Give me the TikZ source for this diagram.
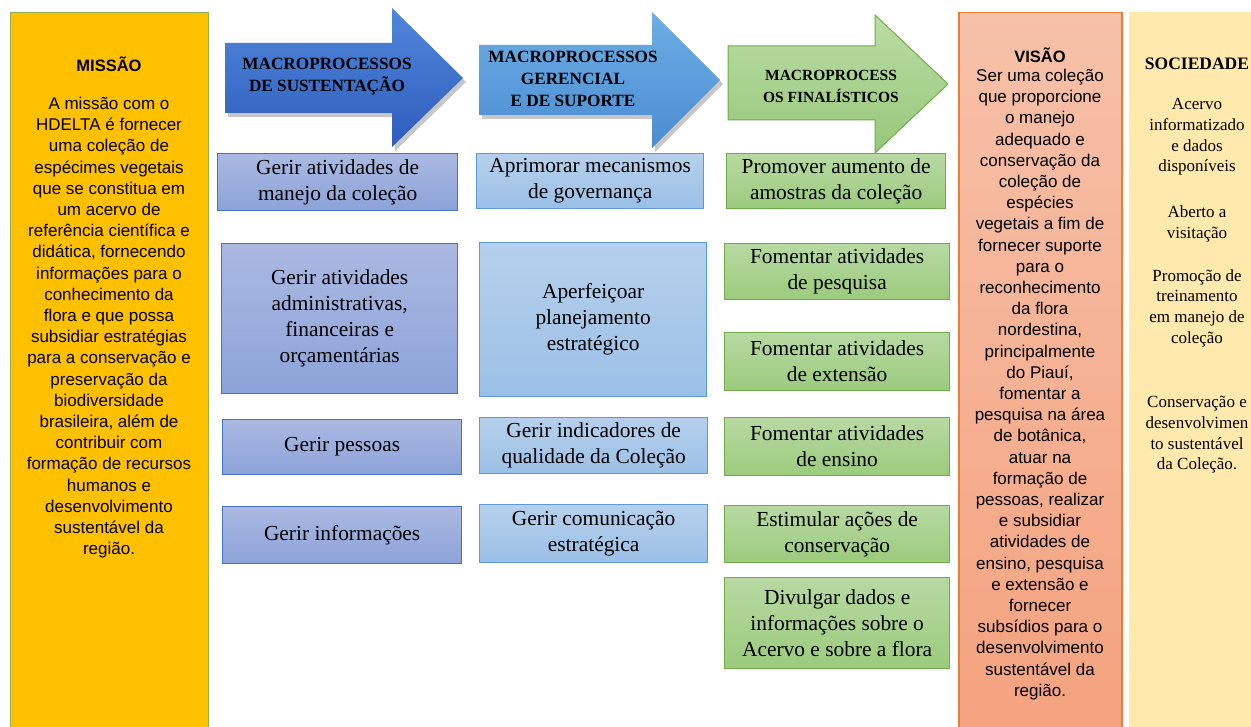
\documentclass[tikz,border=0pt]{standalone}
\usepackage{fontspec}
\setmainfont{Liberation Serif}
\newfontfamily\sansf{Liberation Sans}
\definecolor{mis}{HTML}{FFC000}
\definecolor{misb}{HTML}{8DB356}
\definecolor{aAt}{HTML}{5087DA}
\definecolor{aAb}{HTML}{2E5DBD}
\definecolor{aBt}{HTML}{6EAEE4}
\definecolor{aBb}{HTML}{4A8CD2}
\definecolor{aCt}{HTML}{BADCA4}
\definecolor{aCb}{HTML}{97C87A}
\definecolor{aCd}{HTML}{70AD47}
\definecolor{bAt}{HTML}{ABB9E2}
\definecolor{bAb}{HTML}{8CA3D8}
\definecolor{bAd}{HTML}{4472C4}
\definecolor{bBt}{HTML}{B6D0EC}
\definecolor{bBb}{HTML}{9BC0E6}
\definecolor{bBd}{HTML}{5B9BD5}
\definecolor{bCt}{HTML}{B7D9A2}
\definecolor{bCb}{HTML}{9BCB7D}
\definecolor{bCd}{HTML}{70AD47}
\definecolor{vt}{HTML}{F6C1A9}
\definecolor{vb}{HTML}{F4A27E}
\definecolor{vd}{HTML}{ED7D31}
\definecolor{soc}{HTML}{FFE9AC}
\tikzset{
  panel/.style={anchor=north west, inner sep=0pt},
  bx/.style={draw, line width=1.3pt, anchor=north west, align=center, inner sep=0pt,
    font=\fontsize{21.4}{26}\selectfont},
  bxa/.style={bx, draw=bAd, top color=bAt, bottom color=bAb},
  bxb/.style={bx, draw=bBd, top color=bBt, bottom color=bBb},
  bxc/.style={bx, draw=bCd, top color=bCt, bottom color=bCb},
  sanstext/.style={align=center, inner sep=0pt, font=\sansf\fontsize{17}{21.2}\selectfont},
  sanstitle/.style={align=center, inner sep=0pt, font=\sansf\bfseries\fontsize{16.5}{20}\selectfont},
  arrtext/.style={align=center, inner sep=0pt, font=\bfseries\fontsize{17.2}{22}\selectfont},
  soctext/.style={align=center, inner sep=0pt, font=\fontsize{17}{20.7}\selectfont},
  shadowfill/.style={fill=black, opacity=0.22}
}
\begin{document}
\begin{tikzpicture}[x=1pt,y=-1pt]
\useasboundingbox (0,0) rectangle (1251,727);
\fill[white] (0,0) rectangle (1251,727);

% ---- side panels
\node[panel, fill=mis, draw=misb, line width=1pt, minimum width=198pt, minimum height=725pt] (mis) at (10,12) {};
\node[panel, draw=vd, line width=1.5pt, top color=vt, bottom color=vb, minimum width=163pt, minimum height=725pt] (vis) at (958,12) {};
\node[panel, fill=soc, minimum width=130pt, minimum height=725pt] (soc) at (1129,12) {};

% ---- arrows
\fill[shadowfill] (228,47) -- (395,47) -- (395,12) -- (466,82) -- (395,151) -- (395,117) -- (228,117) -- cycle;
\shade[top color=aAt, bottom color=aAb] (225,43) -- (392,43) -- (392,8) -- (463,78) -- (392,147) -- (392,113) -- (225,113) -- cycle;
\fill[shadowfill] (482,49) -- (655,49) -- (655,16) -- (723,84) -- (655,152) -- (655,119) -- (482,119) -- cycle;
\shade[top color=aBt, bottom color=aBb] (479,45) -- (652,45) -- (652,12) -- (720,80) -- (652,148) -- (652,115) -- (479,115) -- cycle;
\shade[top color=aCt, bottom color=aCb, draw=aCd, line width=1pt] (728,46) -- (875,46) -- (875,15) -- (948,84) -- (875,153) -- (875,120) -- (728,120) -- cycle;

\node[arrtext] (ta) at (327,77) {MACROPROCESSOS\\DE SUSTENTAÇÃO};
\node[arrtext] (tb) at (573,79) {MACROPROCESSOS\\GERENCIAL\\E DE SUPORTE};
\node[arrtext, font=\bfseries\fontsize{15.5}{22}\selectfont] (tc) at (831,86) {MACROPROCESS\\OS FINALÍSTICOS};

% ---- column 1
\node[bxa, minimum width=240pt, minimum height=57pt] (b1) at (217,153) {Gerir atividades de\\manejo da coleção};
\node[bxa, minimum width=236pt, minimum height=150pt] (b2) at (221,243) {Gerir atividades\\administrativas,\\financeiras e\\orçamentárias};
\node[bxa, minimum width=239pt, minimum height=55pt] (b3) at (222,419) {Gerir pessoas};
\node[bxa, minimum width=239pt, minimum height=57pt] (b4) at (222,506) {Gerir informações};

% ---- column 2
\node[bxb, minimum width=227pt, minimum height=55pt] (c1) at (476,153) {Aprimorar mecanismos\\de governança};
\node[bxb, minimum width=227pt, minimum height=154pt] (c2) at (479,242) {Aperfeiçoar\\planejamento\\estratégico};
\node[bxb, minimum width=228pt, minimum height=56pt] (c3) at (479,417) {Gerir indicadores de\\qualidade da Coleção};
\node[bxb, minimum width=228pt, minimum height=58pt] (c4) at (479,504) {Gerir comunicação\\estratégica};

% ---- column 3
\node[bxc, minimum width=219pt, minimum height=55pt] (d1) at (726,153) {Promover aumento de\\amostras da coleção};
\node[bxc, minimum width=225pt, minimum height=56pt] (d2) at (724,243) {Fomentar atividades\\de pesquisa};
\node[bxc, minimum width=225pt, minimum height=58pt] (d3) at (724,332) {Fomentar atividades\\de extensão};
\node[bxc, minimum width=225pt, minimum height=58pt] (d4) at (724,417) {Fomentar atividades\\de ensino};
\node[bxc, minimum width=225pt, minimum height=57pt] (d5) at (724,505) {Estimular ações de\\conservação};
\node[bxc, minimum width=225pt, minimum height=91pt] (d6) at (724,577) {Divulgar dados e\\informações sobre o\\Acervo e sobre a flora};

% ---- Missão text
\node[sanstitle] (mist) at (109,64) {MISSÃO};
\node[sanstext, anchor=north] (misx) at (109,97) {A missão com o\\HDELTA é fornecer\\uma coleção de\\espécimes vegetais\\que se constitua em\\um acervo de\\referência científica e\\didática, fornecendo\\informações para o\\conhecimento da\\flora e que possa\\subsidiar estratégias\\para a conservação e\\preservação da\\biodiversidade\\brasileira, além de\\contribuir com\\formação de recursos\\humanos e\\desenvolvimento\\sustentável da\\região.};

% ---- Visão text
\node[sanstitle] (vist) at (1040,55) {VISÃO};
\node[sanstext, anchor=north] (visx) at (1040,69) {Ser uma coleção\\que proporcione\\o manejo\\adequado e\\conservação da\\coleção de\\espécies\\vegetais a fim de\\fornecer suporte\\para o\\reconhecimento\\da flora\\nordestina,\\principalmente\\do Piauí,\\fomentar a\\pesquisa na área\\de botânica,\\atuar na\\formação de\\pessoas, realizar\\e subsidiar\\atividades de\\ensino, pesquisa\\e extensão e\\fornecer\\subsídios para o\\desenvolvimento\\sustentável da\\região.};

% ---- Sociedade text
\node[soctext, font=\bfseries\fontsize{17.5}{21}\selectfont] (soct) at (1197,64) {SOCIEDADE};
\node[soctext] (s1) at (1197,137) {Acervo\\informatizado\\e dados\\disponíveis};
\node[soctext] (s2) at (1197,224) {Aberto a\\visitação};
\node[soctext] (s3) at (1197,308) {Promoção de\\treinamento\\em manejo de\\coleção};
\node[soctext] (s4) at (1197,435) {Conservação e\\desenvolvimen\\to sustentável\\da Coleção.};
\end{tikzpicture}
\end{document}
